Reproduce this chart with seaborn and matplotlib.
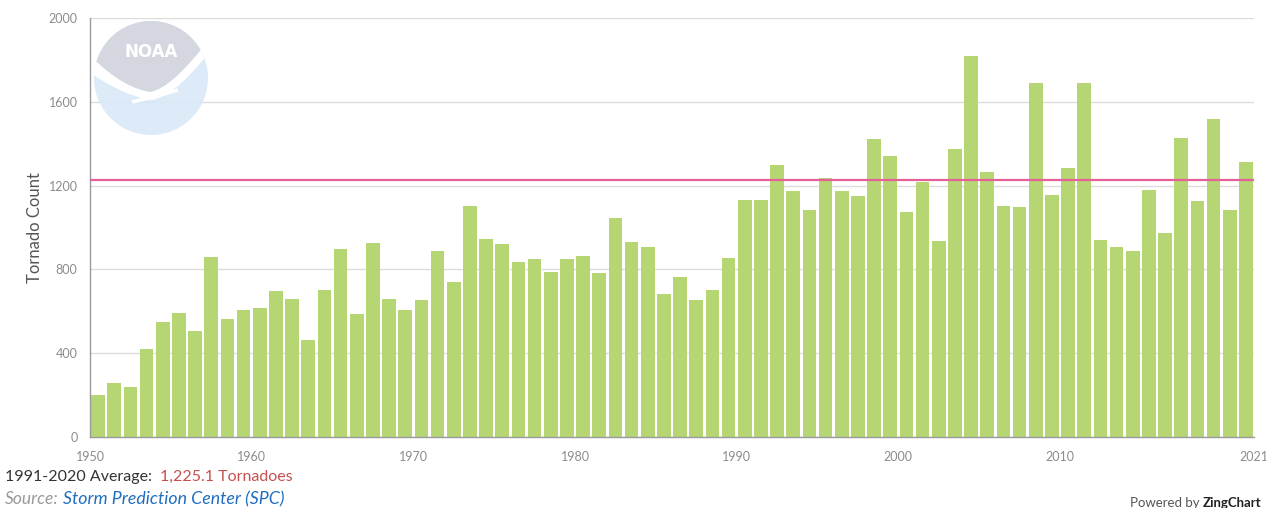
import matplotlib
matplotlib.use("Agg")
import matplotlib.pyplot as plt
import matplotlib.patches as mpatches
from matplotlib.path import Path
import seaborn as sns
import pandas as pd

# data (annual US tornado counts)
years = list(range(1950, 2022))
counts = [201, 260, 240, 422, 550, 593, 504, 858, 564, 604,
          616, 697, 657, 464, 704, 897, 585, 926, 660, 608,
          653, 888, 741, 1102, 947, 920, 835, 852, 788, 852,
          866, 783, 1046, 931, 907, 684, 764, 656, 702, 856,
          1133, 1132, 1297, 1173, 1082, 1234, 1173, 1148, 1424, 1339,
          1075, 1215, 934, 1374, 1817, 1265, 1103, 1096, 1692, 1156,
          1282, 1691, 938, 906, 886, 1177, 976, 1429, 1126, 1517,
          1082, 1314]
average = 1225.1
y_ticks = [0, 400, 800, 1200, 1600, 2000]
x_tick_labels = ["1950", "1960", "1970", "1980", "1990", "2000", "2010", "", "2021"]

BAR = "#b5d672"
AVG = "#e5609a"
GRID = "#dcdcdc"
AXIS = "#9a9a9a"
TICK_TXT = "#8c8c8c"

sns.set_style("white")
plt.rcParams["font.family"] = ["Lato", "DejaVu Sans"]

W, H = 1266, 508
fig = plt.figure(figsize=(W / 100, H / 100), dpi=100)
ax = fig.add_axes([90 / W, 1 - 437 / H, (1254 - 90) / W, (437 - 18) / H])

df = pd.DataFrame({"year": years, "count": counts})
sns.barplot(data=df, x="year", y="count", color=BAR, saturation=1,
            width=0.84, edgecolor="none", ax=ax, zorder=2)

ax.axhline(average, color=AVG, lw=1.6, zorder=3)

ax.set_ylim(0, 2000)
ax.set_xlim(-0.5, len(years) - 0.5)
ax.set_yticks(y_ticks)
ax.set_yticklabels([str(v) for v in y_ticks])
xt = [-0.5 + 10 * k for k in range(8)] + [len(years) - 0.5]
ax.set_xticks(xt)
ax.set_xticklabels(x_tick_labels)
ax.grid(axis="y", color=GRID, lw=1, zorder=0)
ax.set_axisbelow(True)

for s in ["top", "right"]:
    ax.spines[s].set_visible(False)
for s in ["left", "bottom"]:
    ax.spines[s].set_color(AXIS)
    ax.spines[s].set_linewidth(1)
ax.tick_params(axis="both", colors=AXIS, length=6, width=1, direction="out",
               labelcolor=TICK_TXT, labelsize=9)
ax.tick_params(axis="x", pad=4)
ax.tick_params(axis="y", pad=3)
ax.set_xlabel("")
ax.set_ylabel("Tornado Count", fontsize=12, color="#555555", labelpad=4)

# overlay in pixel coordinates for logo and footer
ov = fig.add_axes([0, 0, 1, 1], facecolor="none")
ov.set_xlim(0, W)
ov.set_ylim(H, 0)
ov.axis("off")

# NOAA watermark
cx, cy, r = 151, 78, 57
circ = mpatches.Circle((cx, cy), r, facecolor="#d6e8f6", edgecolor="none", alpha=0.85)
ov.add_patch(circ)
gray_path = Path([(80, 10), (225, 10), (225, 40), (204, 46),
                  (185, 70), (165, 90), (150, 92),
                  (125, 88), (105, 70), (90, 56), (80, 10)],
                 [Path.MOVETO, Path.LINETO, Path.LINETO, Path.LINETO,
                  Path.CURVE4, Path.CURVE4, Path.CURVE4,
                  Path.CURVE4, Path.CURVE4, Path.CURVE4, Path.CLOSEPOLY])
gray = mpatches.PathPatch(gray_path, facecolor="#d4d6de", edgecolor="none", alpha=0.95)
ov.add_patch(gray)
gray.set_clip_path(circ)
white_path = Path([(88, 54), (105, 70), (125, 88), (150, 92),
                   (165, 90), (185, 70), (204, 46), (215, 44),
                   (195, 72), (172, 96), (152, 100),
                   (125, 96), (105, 82), (88, 72), (88, 54)],
                  [Path.MOVETO, Path.CURVE4, Path.CURVE4, Path.CURVE4,
                   Path.CURVE4, Path.CURVE4, Path.CURVE4, Path.LINETO,
                   Path.CURVE4, Path.CURVE4, Path.CURVE4,
                   Path.CURVE4, Path.CURVE4, Path.CURVE4, Path.CLOSEPOLY])
wp = mpatches.PathPatch(white_path, facecolor="white", edgecolor="none")
ov.add_patch(wp)
wp.set_clip_path(circ)
tail = Path([(132, 102), (158, 96), (178, 90)], [Path.MOVETO, Path.CURVE3, Path.CURVE3])
ov.add_patch(mpatches.PathPatch(tail, facecolor="none", edgecolor="white", lw=2.5))
ov.text(cx, 52, "NOAA", color="white", fontsize=12, fontweight="bold",
        ha="center", va="center", family=["DejaVu Sans"])

# footer text
ov.text(5, 477, "1991-2020 Average:", fontsize=11.5, color="#333333", va="center")
ov.text(160, 477, "1,225.1 Tornadoes", fontsize=11.5, color="#c5504f", va="center")
ov.text(5, 499, "Source:", fontsize=12.5, color="#999999", va="center", style="italic")
ov.text(63, 499, "Storm Prediction Center (SPC)", fontsize=12.8, color="#1f6fbf",
        va="center", style="italic")
ov.text(1203, 503, "Powered by ", fontsize=9.5, color="#555555", va="center", ha="right")
ov.text(1203, 503, "ZingChart", fontsize=9.5, color="#222222", va="center", ha="left",
        fontweight="bold")

fig.savefig("out.png", dpi=100)
